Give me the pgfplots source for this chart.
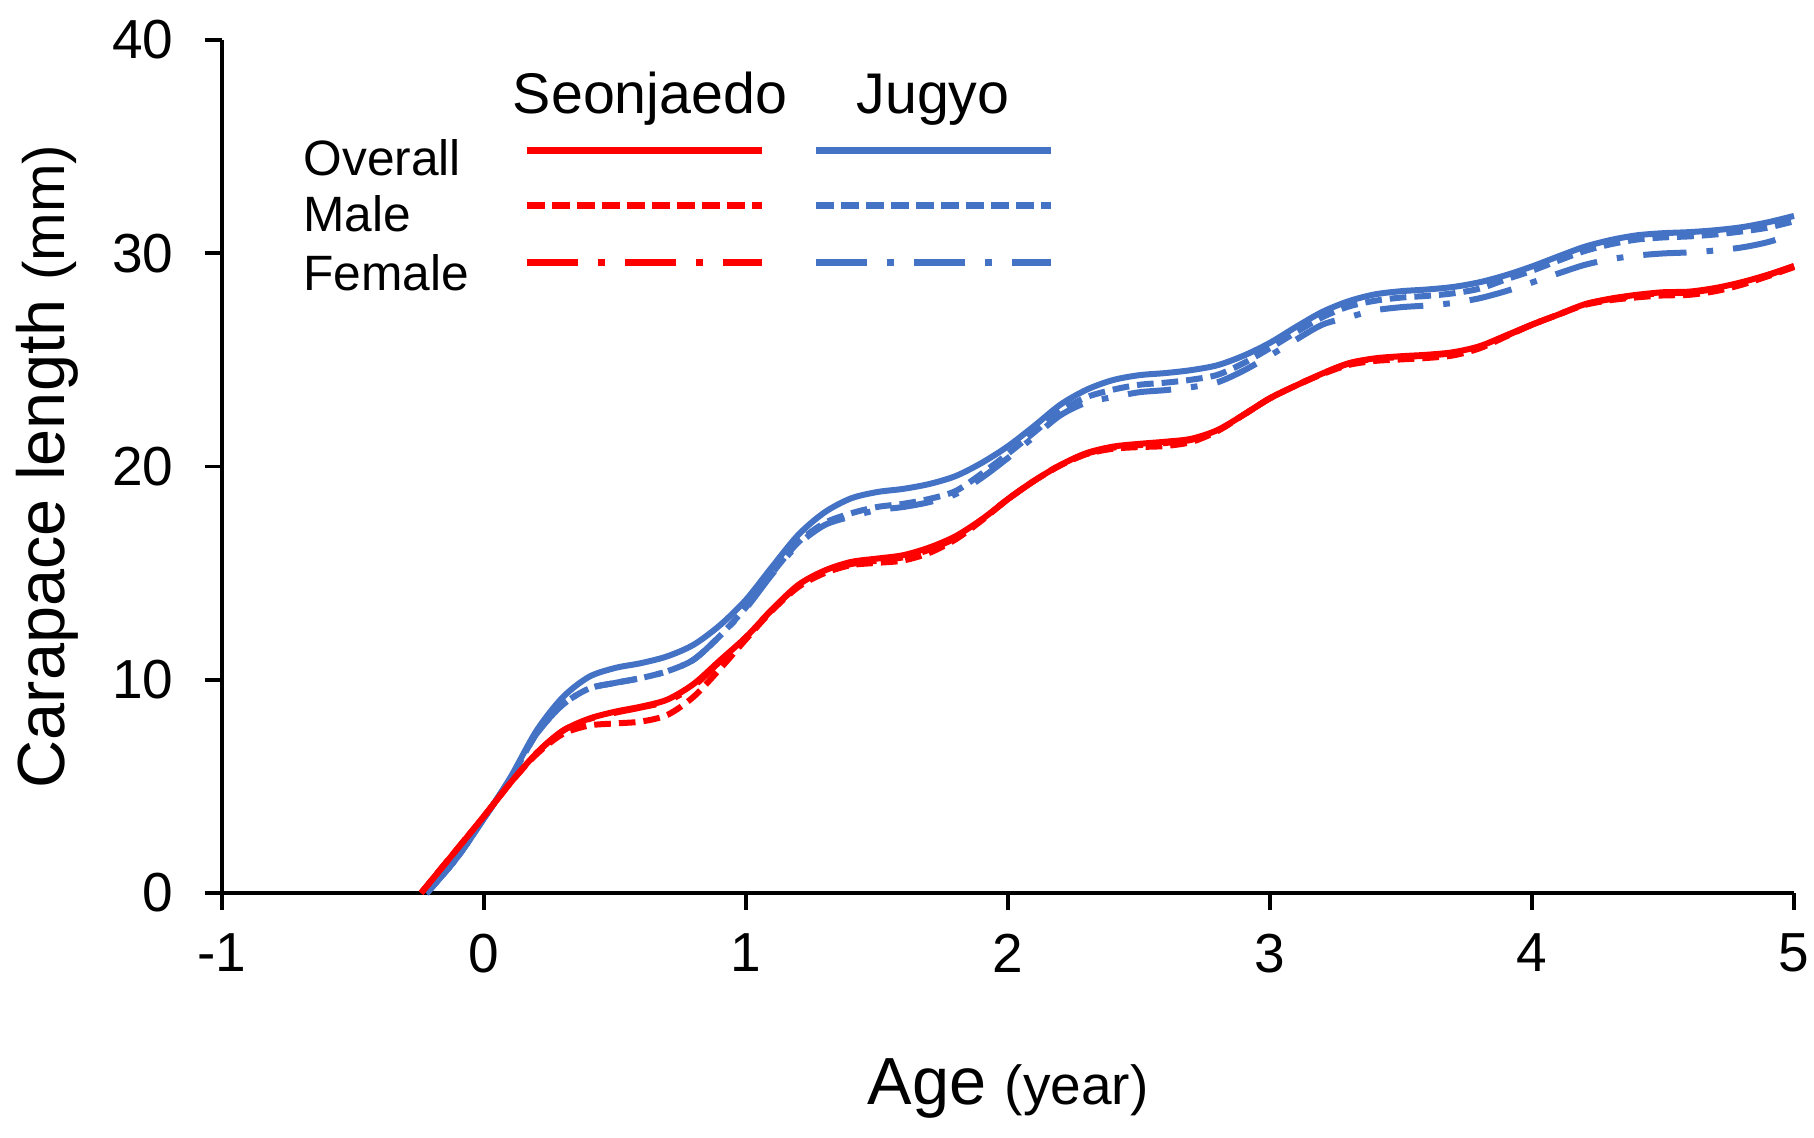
\documentclass[border=0pt]{standalone}
\usepackage{fontspec}
\setmainfont{Liberation Sans}
\usepackage{pgfplots}
\usepackage{pgfplotstable}
\pgfplotsset{compat=1.18}
\definecolor{sred}{RGB}{255,0,0}
\definecolor{jblue}{RGB}{68,114,196}

% Jugyo: age, overall, male, female
\pgfplotstableread{
x     O      M      F
-0.22 0      0      0
-0.2  0.25   0.25   0.25
-0.1  1.7    1.7    1.7
0.0   3.5    3.5    3.5
0.1   5.4    5.35   5.35
0.2   7.6    7.45   7.45
0.3   9.17   8.82   8.82
0.4   10.13  9.58   9.58
0.5   10.55  9.85   9.85
0.6   10.78  10.08  10.08
0.7   11.1   10.4   10.4
0.8   11.64  10.94  10.94
0.9   12.55  12.05  12.05
1.0   13.75  13.4   13.35
1.1   15.3   15.0   14.95
1.2   16.8   16.45  16.35
1.3   17.85  17.35  17.25
1.4   18.5   17.8   17.65
1.5   18.8   18.1   17.95
1.6   18.95  18.25  18.1
1.7   19.18  18.48  18.33
1.8   19.55  18.85  18.7
1.9   20.17  19.67  19.47
2.0   20.95  20.6   20.4
2.1   21.9   21.6   21.4
2.2   22.9   22.6   22.4
2.3   23.6   23.25  23.0
2.4   24.05  23.6   23.25
2.5   24.28  23.83  23.48
2.6   24.38  23.93  23.58
2.7   24.52  24.07  23.72
2.8   24.75  24.3   23.95
2.9   25.2   24.85  24.5
3.0   25.8   25.55  25.2
3.1   26.55  26.3   25.95
3.2   27.25  27.0   26.65
3.3   27.75  27.5   27.0
3.4   28.07  27.77  27.32
3.5   28.22  27.92  27.47
3.6   28.3   28.0   27.55
3.7   28.42  28.12  27.67
3.8   28.64  28.34  27.89
3.9   28.97  28.77  28.22
4.0   29.38  29.18  28.63
4.1   29.85  29.65  29.05
4.2   30.3   30.1   29.45
4.3   30.62  30.42  29.72
4.4   30.84  30.64  29.89
4.5   30.94  30.74  29.99
4.6   30.99  30.79  30.04
4.7   31.08  30.88  30.13
4.8   31.22  31.02  30.27
4.9   31.45  31.2   30.52
5.0   31.75  31.5   30.9
}\jugyo

% Seonjaedo: age, overall, male, female
\pgfplotstableread{
x      O      M      F
-0.24  0      0      0
-0.2   0.6    0.6    0.6
-0.1   2.1    2.1    2.1
0.0    3.6    3.6    3.6
0.1    5.15   5.15   5.15
0.2    6.55   6.5    6.55
0.3    7.6    7.45   7.6
0.4    8.17   7.85   8.15
0.5    8.5    7.95   8.45
0.6    8.74   8.04   8.7
0.7    9.07   8.35   9.0
0.8    9.8    9.2    9.7
0.9    10.9   10.5   10.85
1.0    12.0   11.9   12.0
1.1    13.3   13.25  13.3
1.2    14.45  14.35  14.4
1.3    15.12  15.0   15.05
1.4    15.52  15.37  15.42
1.5    15.68  15.48  15.58
1.6    15.84  15.59  15.74
1.7    16.2   15.95  16.1
1.8    16.73  16.58  16.65
1.9    17.52  17.47  17.5
2.0    18.47  18.47  18.47
2.1    19.33  19.33  19.33
2.2    20.07  20.05  20.07
2.3    20.63  20.58  20.6
2.4    20.93  20.83  20.88
2.5    21.06  20.91  21.0
2.6    21.16  20.96  21.1
2.7    21.3   21.15  21.25
2.8    21.71  21.66  21.68
2.9    22.43  22.43  22.43
3.0    23.2   23.2   23.2
3.1    23.8   23.8   23.8
3.2    24.36  24.33  24.36
3.3    24.84  24.76  24.82
3.4    25.07  24.95  25.05
3.5    25.17  25.02  25.13
3.6    25.24  25.09  25.2
3.7    25.36  25.21  25.32
3.8    25.64  25.54  25.6
3.9    26.14  26.09  26.12
4.0    26.65  26.65  26.65
4.1    27.12  27.12  27.12
4.2    27.6   27.57  27.6
4.3    27.87  27.8   27.85
4.4    28.05  27.93  28.02
4.5    28.17  28.02  28.13
4.6    28.2   28.05  28.16
4.7    28.37  28.22  28.33
4.8    28.64  28.52  28.6
4.9    28.99  28.92  28.97
5.0    29.4   29.35  29.4
}\seonjaedo

\tikzset{
  maleplot/.style={dash pattern=on 5pt off 2.4pt},
  femaleplot/.style={dash pattern=on 13pt off 6pt on 2pt off 6pt},
}

\begin{document}
\begin{tikzpicture}
\useasboundingbox (-66.6pt,-73.5pt) rectangle (477.6pt,267.9pt);
\begin{axis}[
  scale only axis,
  width=471.6pt, height=255.9pt,
  xmin=-1, xmax=5, ymin=0, ymax=40,
  xtick={-1,0,1,2,3,4,5},
  ytick={0,10,20,30,40},
  axis x line=bottom, axis y line=left,
  axis line style={-, line width=1.1pt, black},
  tick style={black, line width=1.1pt},
  major tick length=5.1pt,
  tick align=outside,
  clip=false,
  /pgf/number format/assume math mode=true,
  tick label style={font=\fontsize{16.5}{19}\selectfont},
  xticklabel style={yshift=-3.6pt},
  yticklabel style={xshift=-5.9pt},
  xlabel={\fontsize{20}{24}\selectfont Age {\fontsize{16.5}{19}\selectfont (year)}},
  xlabel style={at={(axis description cs:0.5,-0.2485)}, anchor=base, inner sep=0pt},
  ylabel={\fontsize{20}{24}\selectfont Carapace length {\fontsize{17.5}{19}\selectfont (mm)}},
  ylabel style={at={(axis description cs:-0.0999,0.5)}, anchor=base, inner sep=0pt},
]
% Jugyo
\addplot[jblue, line width=1.8pt, smooth] table[x=x, y=O] {\jugyo};
\addplot[jblue, line width=1.8pt, smooth, maleplot] table[x=x, y=M] {\jugyo};
\addplot[jblue, line width=1.8pt, smooth, femaleplot] table[x=x, y=F] {\jugyo};
% Seonjaedo
\addplot[sred, line width=1.8pt, smooth] table[x=x, y=O] {\seonjaedo};
\addplot[sred, line width=1.8pt, smooth, maleplot] table[x=x, y=M] {\seonjaedo};
\addplot[sred, line width=1.8pt, smooth, femaleplot] table[x=x, y=F] {\seonjaedo};

% legend
\node[anchor=base, inner sep=0pt, font=\fontsize{17.2}{20}\selectfont] at (axis description cs:0.2723,0.9144) {Seonjaedo};
\node[anchor=base, inner sep=0pt, font=\fontsize{17.2}{20}\selectfont] at (axis description cs:0.4523,0.9144) {Jugyo};
\node[anchor=base west, inner sep=0pt, font=\fontsize{14.9}{18}\selectfont] at (axis description cs:0.0515,0.8406) {Overall};
\node[anchor=base west, inner sep=0pt, font=\fontsize{14.9}{18}\selectfont] at (axis description cs:0.0515,0.7749) {Male};
\node[anchor=base west, inner sep=0pt, font=\fontsize{14.9}{18}\selectfont] at (axis description cs:0.0515,0.7069) {Female};
\draw[sred, line width=2.1pt] (axis description cs:0.194,0.871) -- (axis description cs:0.3435,0.871);
\draw[sred, line width=2.1pt, dash pattern=on 5.4pt off 2.1pt] (axis description cs:0.194,0.8054) -- (axis description cs:0.3435,0.8054);
\draw[sred, line width=2.1pt, dash pattern=on 15.3pt off 6pt on 2.1pt off 6pt] (axis description cs:0.194,0.7386) -- (axis description cs:0.3435,0.7386);
\draw[jblue, line width=2.1pt] (axis description cs:0.3779,0.871) -- (axis description cs:0.5274,0.871);
\draw[jblue, line width=2.1pt, dash pattern=on 5.4pt off 2.1pt] (axis description cs:0.3779,0.8054) -- (axis description cs:0.5274,0.8054);
\draw[jblue, line width=2.1pt, dash pattern=on 15.3pt off 6pt on 2.1pt off 6pt] (axis description cs:0.3779,0.7386) -- (axis description cs:0.5274,0.7386);
\end{axis}
\end{tikzpicture}
\end{document}
